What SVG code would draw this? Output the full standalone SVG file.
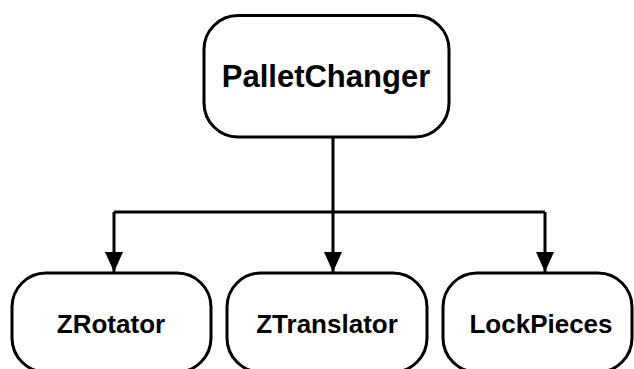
<svg xmlns="http://www.w3.org/2000/svg" width="634" height="369" viewBox="0 0 634 369">
  <defs>
    <marker id="arrow" viewBox="0 0 20 18" refX="20" refY="9" markerWidth="20" markerHeight="18" markerUnits="userSpaceOnUse" orient="auto">
      <path d="M0,0 L20,9 L0,18 Z" fill="#000"/>
    </marker>
    <style>
      .box { fill: #fff; stroke: #000; stroke-width: 3; }
      .label { font-family: "Liberation Sans", Arial, sans-serif; font-weight: bold; fill: #000; text-anchor: middle; }
      .wire { fill: none; stroke: #000; stroke-width: 3; }
    </style>
  </defs>
  <rect width="634" height="369" fill="#fff"/>

  <g id="connectors">
    <path class="wire" d="M333,137 V212"/>
    <path class="wire" d="M114,212 H545"/>
    <path class="wire" d="M114,212 V272" marker-end="url(#arrow)"/>
    <path class="wire" d="M333,212 V272" marker-end="url(#arrow)"/>
    <path class="wire" d="M545,212 V272" marker-end="url(#arrow)"/>
  </g>

  <g id="PalletChanger">
    <rect class="box" x="204" y="15.5" width="245" height="121.5" rx="34" ry="34"/>
    <text class="label" x="326" y="87" font-size="31">PalletChanger</text>
  </g>

  <g id="ZRotator">
    <rect class="box" x="12" y="273" width="199" height="99" rx="34" ry="34"/>
    <text class="label" x="111" y="333" font-size="26">ZRotator</text>
  </g>

  <g id="ZTranslator">
    <rect class="box" x="227" y="273" width="200" height="99" rx="34" ry="34"/>
    <text class="label" x="327" y="333" font-size="26">ZTranslator</text>
  </g>

  <g id="LockPieces">
    <rect class="box" x="443" y="273" width="189" height="99" rx="34" ry="34"/>
    <text class="label" x="541" y="333" font-size="26">LockPieces</text>
  </g>
</svg>
